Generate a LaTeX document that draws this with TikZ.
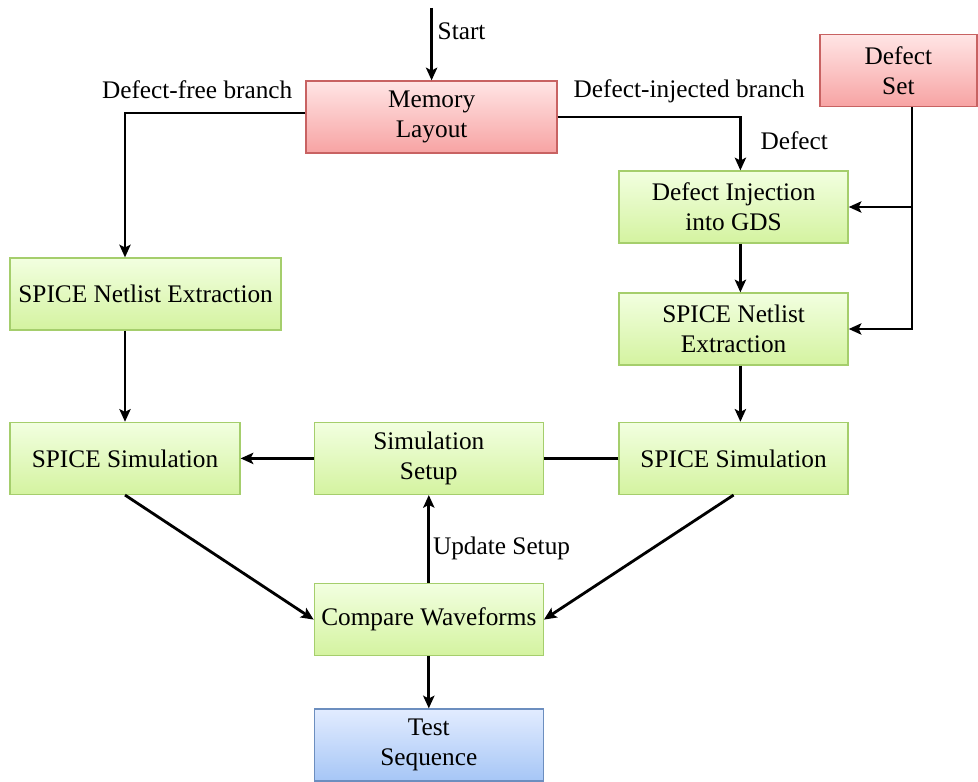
\documentclass[tikz,border=0pt]{standalone}
\usepackage{fontspec}
\setmainfont{Liberation Serif}
\usetikzlibrary{arrows.meta}

\definecolor{redtop}{RGB}{255,229,229}
\definecolor{redbot}{RGB}{247,163,163}
\definecolor{redline}{RGB}{200,98,98}
\definecolor{greentop}{RGB}{242,255,224}
\definecolor{greenbot}{RGB}{212,243,160}
\definecolor{greenline}{RGB}{165,206,108}
\definecolor{bluetop}{RGB}{226,236,255}
\definecolor{bluebot}{RGB}{166,198,246}
\definecolor{blueline}{RGB}{108,142,191}

\tikzset{
    box/.style = {rectangle, draw, line width=0.9pt, align=center,
                  minimum width=5.725cm, minimum height=1.8cm, inner sep=2pt},
    redbox/.style = {box, draw=redline, top color=redtop, bottom color=redbot},
    greenbox/.style = {box, draw=greenline, top color=greentop, bottom color=greenbot},
    bluebox/.style = {box, draw=blueline, top color=bluetop, bottom color=bluebot},
    flow/.style = {line width=2pt, -{Stealth[length=9pt, width=8pt, inset=2pt]}},
    plain/.style = {line width=2pt}
}

\begin{document}
\begin{tikzpicture}[font=\fontsize{18}{21.5}\selectfont]
    \useasboundingbox (0,0) rectangle (24.45,-19.55);

    % Boxes
    \coordinate (start) at (10.79,-0.2);
    \node[redbox, minimum width=6.275cm] (layout) at (10.79,-2.925) {Memory\\Layout};
    \node[redbox, minimum width=3.925cm] (defset) at (22.46,-1.77) {Defect\\Set};
    \node[greenbox] (inject) at (18.34,-5.175) {Defect Injection\\into GDS};
    \node[greenbox] (rnet) at (18.34,-8.225) {SPICE Netlist\\Extraction};
    \node[greenbox] (rsim) at (18.34,-11.46) {SPICE Simulation};
    \node[greenbox, minimum width=6.775cm] (lnet) at (3.64,-7.35) {SPICE Netlist Extraction};
    \node[greenbox, minimum width=5.75cm] (lsim) at (3.125,-11.46) {SPICE Simulation};
    \node[greenbox] (setup) at (10.72,-11.46) {Simulation\\Setup};
    \node[greenbox] (compare) at (10.72,-15.49) {Compare Waveforms};
    \node[bluebox] (test) at (10.72,-18.625) {Test\\Sequence};

    % Entry and the two branches
    \draw[flow] (start) -- (layout.north) node[pos=0.32, right] {Start};
    \draw[flow] ([yshift=0.1cm]layout.west) -| (lnet.north -| lsim.north)
        node[pos=0.3, above=0.2cm] {Defect-free branch};
    \draw[flow] (layout.east) -| ([xshift=0.17cm]inject.north)
        node[pos=0.36, above=0.2cm] {Defect-injected branch}
        node[pos=0.72, right=0.35cm] {Defect};

    % Defect set feeds the injected branch
    \draw[flow] ([xshift=0.34cm]defset.south) |- (inject.east);
    \draw[flow] ([xshift=0.34cm]defset.south) |- (rnet.east);

    % Vertical chains
    \draw[flow] ([xshift=0.17cm]inject.south) -- ([xshift=0.17cm]rnet.north);
    \draw[flow] ([xshift=0.17cm]rnet.south) -- ([xshift=0.17cm]rsim.north);
    \draw[flow] (lnet.south -| lsim.north) -- (lsim.north);

    % Simulation setup shared by both sides
    \draw[plain] (rsim.west) -- (setup.east);
    \draw[flow] (setup.west) -- (lsim.east);

    % Comparison and result
    \draw[flow] (lsim.south) -- (compare.west);
    \draw[flow] (rsim.south) -- (compare.east);
    \draw[flow] (compare.north) -- (setup.south)
        node[pos=0.39, right, inner sep=2pt] {Update Setup};
    \draw[flow] (compare.south) -- (test.north);
\end{tikzpicture}
\end{document}
